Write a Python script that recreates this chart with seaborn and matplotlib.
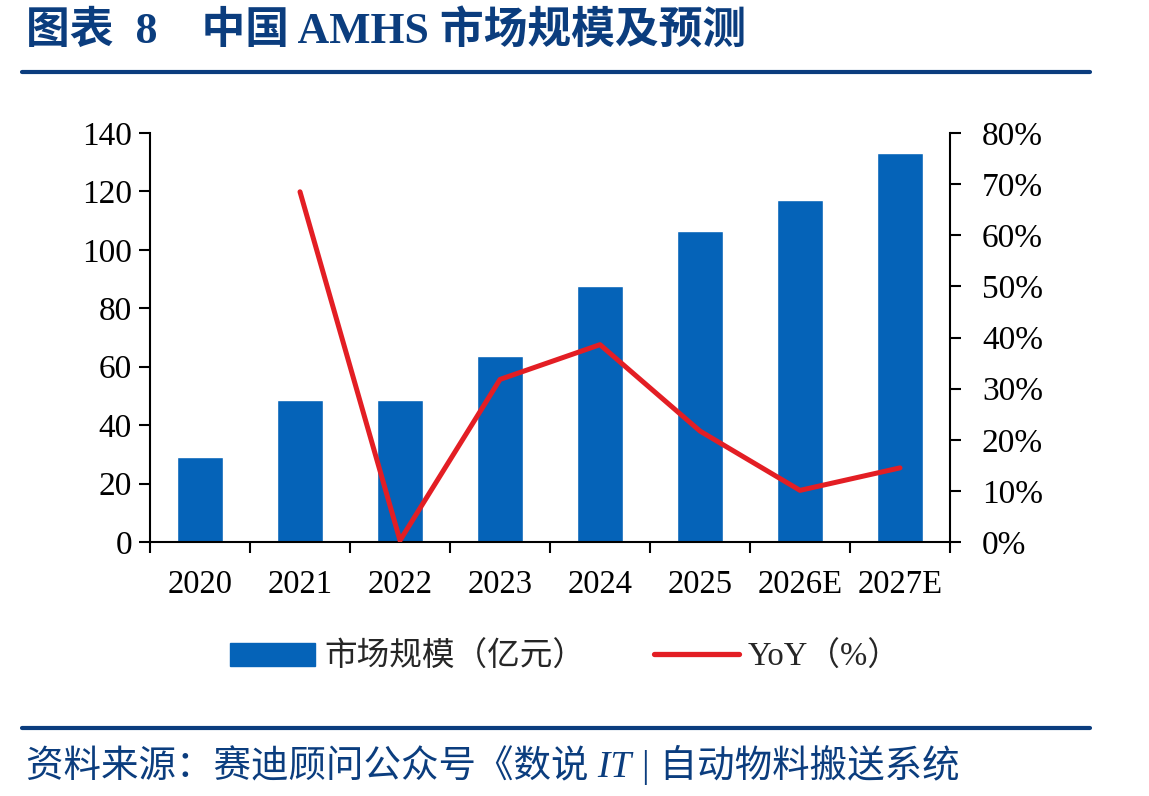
import numpy as np
import matplotlib
matplotlib.use("Agg")
import matplotlib.pyplot as plt
import seaborn as sns
from matplotlib.patches import Patch
from matplotlib.lines import Line2D
from matplotlib.ticker import FixedLocator, PercentFormatter

years = ["2020", "2021", "2022", "2023", "2024", "2025", "2026E", "2027E"]
market_size = [29, 48.5, 48.5, 63.5, 87.5, 106.5, 117, 133]
yoy_years = ["2021", "2022", "2023", "2024", "2025", "2026E", "2027E"]
yoy = [68.5, 0.3, 31.8, 38.6, 21.7, 10.1, 14.5]

title = "图表  8    中国 AMHS 市场规模及预测"
source = "资料来源：赛迪顾问公众号《数说 IT | 自动物料搬送系统"
legend_labels = ["市场规模（亿元）", "YoY（%）"]

sns.set_theme(style="white")
plt.rcParams["font.family"] = ["Liberation Serif", "Noto Sans CJK SC", "DejaVu Sans"]

BAR = "#0563B8"
RED = "#E31E24"
NAVY = "#0B3D7E"

fig = plt.figure(figsize=(11.49, 7.96), dpi=100)
ax = fig.add_axes([150/1149, 1 - 542/796, 800/1149, (542-133)/796])

sns.barplot(x=years, y=market_size, color=BAR, saturation=1, width=0.46, ax=ax)
ax.set_xlim(-0.5, len(years) - 0.5)
ax.set_ylim(0, 140)
ax.set_yticks(np.arange(0, 141, 20))
ax.set_xlabel("")
ax.set_ylabel("")

ax2 = ax.twinx()
pos = [years.index(y) for y in yoy_years]
sns.lineplot(x=pos, y=yoy, color=RED, linewidth=3.6, ax=ax2, sort=False)
ax2.set_ylim(0, 80)
ax2.set_yticks(np.arange(0, 81, 10))
ax2.yaxis.set_major_formatter(PercentFormatter(decimals=0))
ax2.set_ylabel("")
ax2.set_xlim(-0.5, len(years) - 0.5)

for a in (ax, ax2):
    a.spines["top"].set_visible(False)
    a.grid(False)
ax.spines["right"].set_visible(False)
ax2.spines["left"].set_visible(False)
ax2.spines["bottom"].set_visible(False)
for a, side in ((ax, "left"), (ax2, "right")):
    a.spines[side].set_color("black")
    a.spines[side].set_linewidth(1.5)
ax.spines["bottom"].set_color("black")
ax.spines["bottom"].set_linewidth(1.5)

ax.tick_params(axis="y", direction="out", length=8, width=1.5, color="black",
               labelsize=24, pad=5, left=True)
ax2.tick_params(axis="y", direction="out", length=8, width=1.5, color="black",
                labelsize=24, pad=15, right=True)
ax.tick_params(axis="x", which="major", length=0, labelsize=23.5, pad=20)
ax.xaxis.set_minor_locator(FixedLocator(np.arange(-0.5, len(years), 1.0)))
ax.tick_params(axis="x", which="minor", direction="out", length=8, width=1.5,
               color="black", bottom=True)
for lab in ax.get_xticklabels() + ax.get_yticklabels() + ax2.get_yticklabels():
    lab.set_color("black")

handles = [Patch(facecolor=BAR, edgecolor=BAR),
           Line2D([0], [0], color=RED, linewidth=3.8)]
fig.legend(handles, legend_labels, loc="center", bbox_to_anchor=(0.492, 1 - 657/796),
           ncol=2, frameon=False, fontsize=23.5, handlelength=2.6, handleheight=0.7,
           columnspacing=2.1, handletextpad=0.28, borderpad=0, borderaxespad=0)

fig.text(26/1149, 1 - 31/796, title, fontsize=31.5, fontweight="bold", color=NAVY,
         va="center", ha="left")
fig.add_artist(Line2D([22/1149, 1090/1149], [1 - 72/796] * 2, color=NAVY, linewidth=3))
fig.add_artist(Line2D([22/1149, 1090/1149], [1 - 728/796] * 2, color=NAVY, linewidth=3))
fig.text(26/1149, 1 - 765/796, source, fontsize=27, style="italic", color=NAVY,
         va="center", ha="left")

fig.savefig("out.png", dpi=100)
